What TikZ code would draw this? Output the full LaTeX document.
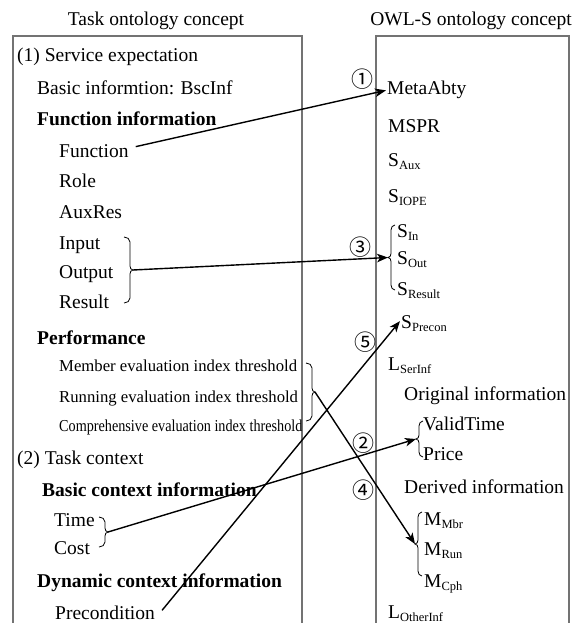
\documentclass[tikz,border=0pt]{standalone}
\usepackage{fontspec}
\usepackage{graphicx}
\setmainfont{Liberation Serif}
\newfontfamily\circfont{Noto Sans CJK SC}
\usetikzlibrary{arrows.meta}

% lowered, smaller subscript text
\newcommand\lsub[1]{\raisebox{-3pt}{\fontsize{12.5}{12.5}\selectfont #1}}
% closing brace "}" : left x, top y, bottom y, name of tip
\newcommand\bracR[4]{%
  \draw[brc] (#1,#2) to[out=0,in=90] (#1+6,#2+5) -- (#1+6,{(#2+#3)/2-4})
    to[out=-90,in=180] (#1+9,{(#2+#3)/2}) coordinate (#4)
    to[out=180,in=90] (#1+6,{(#2+#3)/2+4}) -- (#1+6,#3-5)
    to[out=-90,in=0] (#1,#3);}
% opening brace "{" : right x, top y, bottom y, name of tip
\newcommand\bracL[4]{%
  \draw[brc] (#1,#2) to[out=180,in=90] (#1-4,#2+5) -- (#1-4,{(#2+#3)/2-4})
    to[out=-90,in=0] (#1-7,{(#2+#3)/2}) coordinate (#4)
    to[out=0,in=90] (#1-4,{(#2+#3)/2+4}) -- (#1-4,#3-5)
    to[out=-90,in=180] (#1,#3);}

\begin{document}
\begin{tikzpicture}[x=1pt,y=-1pt,
  txt/.style={anchor=base west, inner sep=1pt, font=\fontsize{19.5}{22}\selectfont},
  bld/.style={txt, font=\fontsize{19.5}{22}\selectfont\bfseries},
  sml/.style={txt, font=\fontsize{16.7}{20}\selectfont},
  ttl/.style={anchor=base, inner sep=1pt, font=\fontsize{19.5}{22}\selectfont},
  frame/.style={draw=black!55, line width=1.1pt},
  brc/.style={draw=black, line width=0.8pt},
  link/.style={draw=black, line width=1.4pt, -{Stealth[length=11pt,width=8.5pt,inset=3pt]}},
  circ/.style={inner sep=0pt, font=\circfont\fontsize{22}{22}\selectfont}]

\useasboundingbox (0,0) rectangle (573,623);

% column titles
\node[ttl] (ttlL) at (156,26) {Task ontology concept};
\node[ttl] (ttlR) at (471,26) {OWL-S ontology concept};

% column frames (open at the bottom)
\draw[frame] (13,623) -- (13,36) -- (302,36) -- (302,623);
\draw[frame] (376,623) -- (376,36) -- (569,36) -- (569,623);

% task ontology concepts
\node[txt] (s1)   at (16,62)   {(1) Service expectation};
\node[txt] (bsc)  at (36,95)   {Basic informtion: BscInf};
\node[bld] (fni)  at (36,125)  {Function information};
\node[txt] (fn)   at (58,157)  {Function};
\node[txt] (role) at (58,187)  {Role};
\node[txt] (aux)  at (58,218)  {AuxRes};
\node[txt] (inp)  at (58,249)  {Input};
\node[txt] (outp) at (58,278)  {Output};
\node[txt] (res)  at (58,308)  {Result};
\node[bld] (perf) at (36,344)  {Performance};
\node[sml] (mem)  at (58,371)  {Member evaluation index threshold};
\node[sml] (run)  at (58,402)  {Running evaluation index threshold};
\node[sml] (cmp)  at (58,431)  {\scalebox{0.85}[1]{Comprehensive evaluation index threshold}};
\node[txt] (s2)   at (16,464)  {(2) Task context};
\node[bld] (bci)  at (41,496)  {Basic context information};
\node[txt] (time) at (53,526)  {Time};
\node[txt] (cost) at (53,554)  {Cost};
\node[bld] (dci)  at (36,587)  {Dynamic context information};
\node[txt] (pre)  at (54,619)  {Precondition};

% OWL-S ontology concepts
\node[txt] (meta)  at (386,95)  {MetaAbty};
\node[txt] (mspr)  at (387,132) {MSPR};
\node[txt] (saux)  at (387,166) {S\lsub{Aux}};
\node[txt] (siope) at (387,202) {S\lsub{IOPE}};
\node[txt] (sin)   at (396,237) {S\lsub{In}};
\node[txt] (sout)  at (396,264) {S\lsub{Out}};
\node[txt] (sres)  at (396,295) {S\lsub{Result}};
\node[txt] (spre)  at (400,328) {S\lsub{Precon}};
\node[txt] (lser)  at (387,370) {L\lsub{SerInf}};
\node[txt] (orig)  at (403,400) {Original information};
\node[txt] (valid) at (422,430) {ValidTime};
\node[txt] (price) at (422,460) {Price};
\node[txt] (deriv) at (403,493) {Derived information};
\node[txt] (mmbr)  at (423,525) {M\lsub{Mbr}};
\node[txt] (mrun)  at (423,555) {M\lsub{Run}};
\node[txt] (mcph)  at (423,587) {M\lsub{Cph}};
\node[txt] (loth)  at (387,618) {L\lsub{OtherInf}};

% grouping braces
\bracR{124}{237}{303}{tipA}
\bracR{306}{363}{421}{tipB}
\bracR{99}{517}{547}{tipC}
\bracL{395}{225}{290}{tipD}
\bracL{423}{421}{457}{tipE}
\bracL{422}{512}{576}{tipF}

% mappings
\draw[link] ([shift={(6,-4)}]fn.east) -- (meta.west);
\draw[link] (tipA) -- (tipD);
\draw[link] ([shift={(6,-2)}]pre.east) -- ([shift={(0,-2)}]spre.west);
\draw[link] (tipC) -- (tipE);
\draw[link] (tipB) -- (tipF);

% mapping numbers
\node[circ] (c1) at (362,79)  {①};
\node[circ] (c3) at (360,247) {③};
\node[circ] (c5) at (365,342) {⑤};
\node[circ] (c2) at (363,443) {②};
\node[circ] (c4) at (363,490) {④};
\end{tikzpicture}
\end{document}
